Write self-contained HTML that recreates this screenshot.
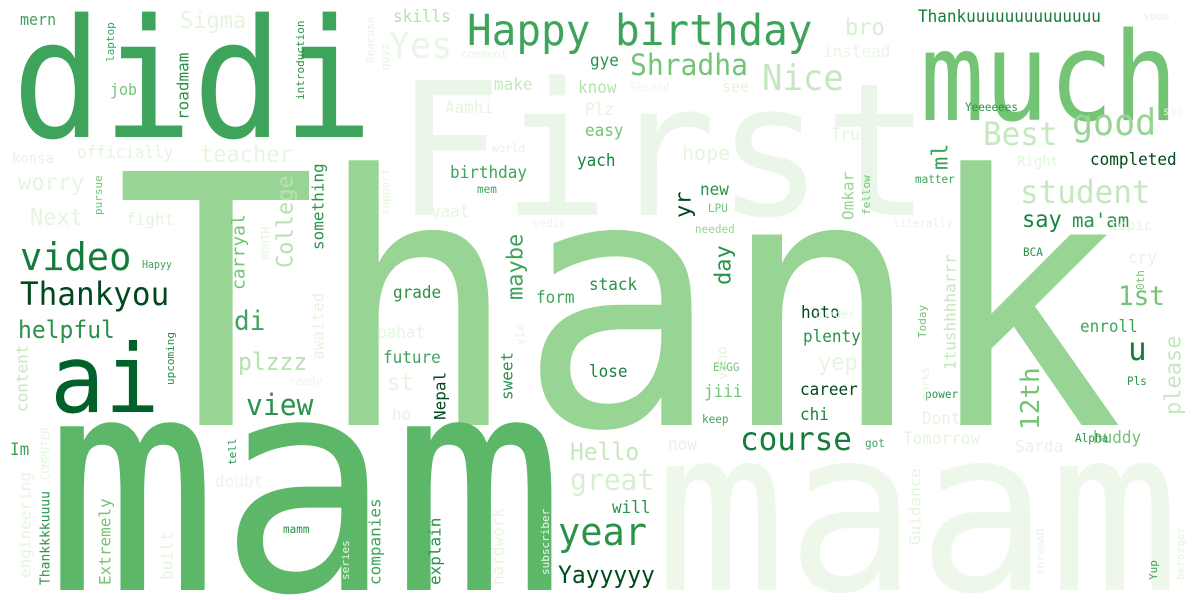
<!DOCTYPE html>
<html><head><meta charset="utf-8"><style>
html,body{margin:0;padding:0;background:#fff;width:1200px;height:600px;overflow:hidden}
svg{display:block;overflow:hidden}
svg text{font-family:"DejaVu Sans Mono","Liberation Mono",monospace}
</style></head><body>
<svg id="cloud" width="1200" height="600" viewBox="0 0 1200 600" xmlns="http://www.w3.org/2000/svg">
<rect width="1200" height="600" fill="#fff"/>
</svg>
<script>
const words=["First","maam","Thank","didi","much","mam","ai","Happy birthday","video","Thankyou","helpful","Nice","Yes","Shradha","good","Best","student","course","year","Yayyyyy","great","Hello","view","plzzz","di","1st","u","say","ma'am","Sigma","bro","hope","teacher","worry","Next","Aamhi","make","know","Plz","easy","yach","birthday","gye","skills","Thankuuuuuuuuuuuuuu","completed","grade","stack","form","hoto","plenty","enroll","future","lose","jiii","career","chi","will","buddy","Sarda","Tomorrow","Dont","yep","new","cry","True","Im","konsa","officially","fight","mern","job","see","now","st","ho","pahat","vaat","Hapyy","Right","Yeeeeees","Pls","Alpha","got","keep","power","BCA","LPU","needed","world","mem","comment","Second","instead","sooo","soo","ENGG","matter","literally","topic","guider","mamm","doubt","ready","vedio",
"laptop","roadmam","introduction","Beacuse","guyz","something","College","carryal","WORTH","awaited","upcoming","pursue","support","content","engineering","Thankkkkuuuu","COMPUTER","Extremely","built","tell","series","companies","explain","Nepal","sweet","maybe","y1x","hardwork","subscriber","yr","day","vdoo","Omkar","fellow","ml","1tushhhharrr","Today","marks","Guidance","12th","please","0th","Yup","berozgar","shramAD"];
const xs=[395,655,115,12,920,45,50,467,20,20,18,762,389,630,1072,983,1020,740,558,558,570,570,246,238,234,1118,1128,1022,1072,180,845,682,200,18,30,445,494,578,585,585,577,450,590,393,918,1090,393,589,536,801,803,1080,383,589,704,800,800,612,1093,1015,903,922,818,700,1128,831,10,12,77,126,20,110,722,668,387,392,377,431,142,1017,965,1127,1075,865,702,925,1023,708,695,492,477,461,630,823,1143,1163,713,915,893,1110,815,283,215,289,533,
110,183,300,370,385,318,285,238,265,318,170,98,385,22,25,45,45,105,167,232,345,375,435,440,507,515,520,498,545,683,723,722,848,866,940,950,922,925,915,1030,1173,1140,1153,1180,1040];
const ys=[215,590,425,137,120,590,412,45,270,305,338,90,58,75,135,145,203,450,545,583,490,460,415,370,330,305,360,227,227,28,35,160,162,190,225,113,90,93,115,136,166,178,66,22,22,165,298,290,303,318,342,332,363,377,397,395,420,513,443,452,444,424,370,195,263,140,455,163,158,225,25,95,92,450,390,420,338,217,268,166,111,385,442,447,423,398,256,212,233,152,193,58,91,57,20,115,371,183,227,230,318,533,487,385,227,
62,120,100,63,70,250,268,290,260,360,385,215,215,412,578,585,480,585,580,465,580,585,585,420,400,300,345,585,575,218,285,380,220,215,170,370,338,400,545,430,415,290,580,580,575];
const sizes=[178,218,335,150,107,288,91,41,37,31,23,34,35,28,35,31,31,31,37,23,28,23,28,23,26,26,31,22,19,22,22,20,22,22,22,16,16,16,16,16,16,16,16,16,16,16,16,16,16,16,16,16,16,16,16,16,16,16,16,16,16,16,22,16,16,16,16,14,16,16,15,15,15,16,22,16,16,16,10,14,11,11,11,11,11,11,11,11,11,11,11,11,11,16,11,11,11,11,11,14,11,11,16,11,11,
11,16,11,11,11,16,22,18,11,16,11,11,11,16,16,13,11,16,16,11,11,16,16,16,16,22,11,16,11,22,22,14,16,11,22,16,11,11,16,26,22,11,11,11,11];
const colors=["#eaf6e7","#edf8ea","#98d594","#3fa45b","#74c476","#5cb769","#00622a","#3fa45b","#137d39","#00491d","#2a924a","#c6e8bf","#eaf6e7","#74c476","#98d594","#c6e8bf","#c6e8bf","#137d39","#2a924a","#00491d","#d8efd3","#c6e8bf","#2a924a","#b6e2af","#3fa45b","#74c476","#137d39","#1a843f","#2a924a","#e5f5e0","#d8efd3","#e5f5e0","#e5f5e0","#e5f5e0","#e5f5e0","#e5f5e0","#c6e8bf","#b6e2af","#e5f5e0","#74c476","#1a843f","#3fa45b","#2a924a","#b6e2af","#137d39","#00491d","#2a924a","#2a924a","#3fa45b","#00491d","#2a924a","#3fa45b","#3fa45b","#1a843f","#74c476","#00491d","#1a843f","#2a924a","#74c476","#e5f5e0","#e5f5e0","#e5f5e0","#e5f5e0","#2a924a","#e5f5e0","#e5f5e0","#3fa45b","#e5f5e0","#e5f5e0","#e5f5e0","#3fa45b","#74c476","#e5f5e0","#e5f5e0","#e5f5e0","#e5f5e0","#e5f5e0","#e5f5e0","#3fa45b","#e5f5e0","#2a924a","#2a924a","#2a924a","#3fa45b","#3fa45b","#2a924a","#2a924a","#74c476","#98d594","#e5f5e0","#3fa45b","#e5f5e0","#eaf6e7","#eaf6e7","#e5f5e0","#e5f5e0","#74c476","#3fa45b","#e5f5e0","#e5f5e0","#e5f5e0","#2a924a","#eaf6e7","#eaf6e7","#eaf6e7",
"#3fa45b","#2a924a","#2a924a","#e5f5e0","#e5f5e0","#2a924a","#b6e2af","#74c476","#e5f5e0","#e5f5e0","#2a924a","#74c476","#e5f5e0","#c6e8bf","#e5f5e0","#2a924a","#e5f5e0","#74c476","#e5f5e0","#2a924a","#e5f5e0","#3fa45b","#2a924a","#00491d","#2a924a","#3fa45b","#e5f5e0","#e5f5e0","#eaf6e7","#00491d","#2a924a","#e5f5e0","#98d594","#74c476","#3fa45b","#c6e8bf","#74c476","#e5f5e0","#e5f5e0","#74c476","#c6e8bf","#74c476","#3fa45b","#e5f5e0","#e5f5e0"];
const stretch=words.map(w=>w==="much"?1.15:(w==="didi"?1.1:1.04));
const vertical=words.map((w,i)=>i>=105);
const svg=document.getElementById('cloud');
const NS="http://www.w3.org/2000/svg";
words.forEach((w,i)=>{
  const t=document.createElementNS(NS,'text');
  t.textContent=w;
  t.setAttribute('font-size',sizes[i]);
  t.setAttribute('fill',colors[i]);
  if(vertical[i]){
    const bx=xs[i]+0.35*sizes[i];
    t.setAttribute('transform','translate('+bx+','+ys[i]+') rotate(-90)');
  }else{
    t.setAttribute('transform','translate('+xs[i]+','+ys[i]+') scale(1,'+stretch[i]+')');
  }
  
  
  svg.appendChild(t);
});
</script>
</body></html>
